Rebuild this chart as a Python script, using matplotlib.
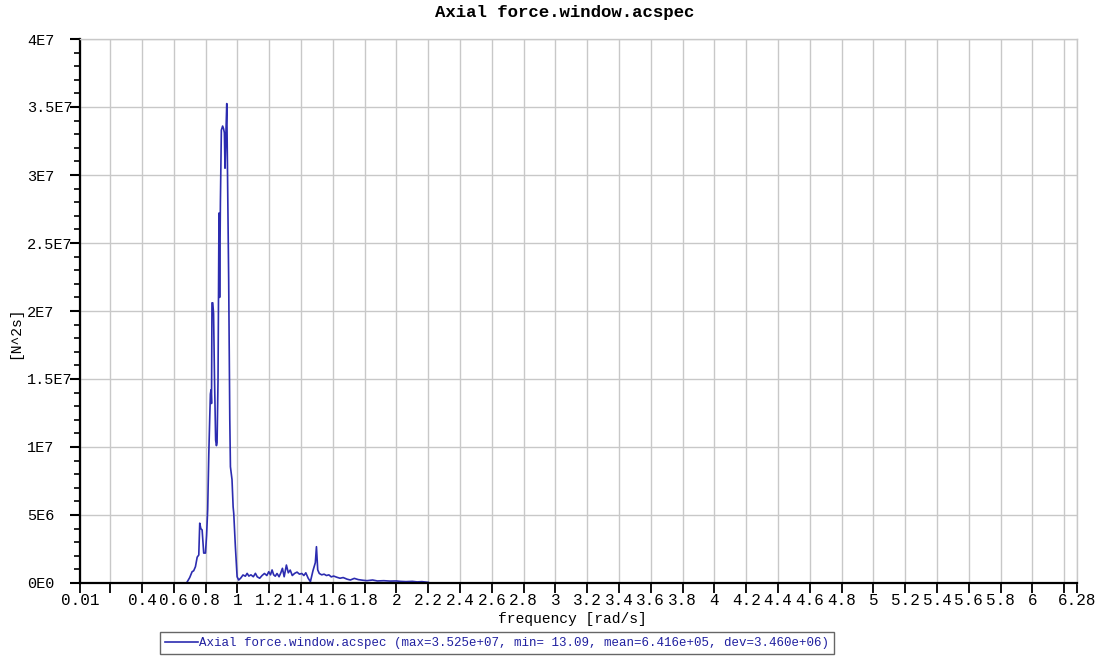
import numpy as np
import matplotlib
matplotlib.use("Agg")
from matplotlib import pyplot as plt
from matplotlib.ticker import MultipleLocator

# Spectrum data (frequency in rad/s, PSD in N^2 s)
freq = [0.680, 0.700, 0.715, 0.725, 0.736, 0.747, 0.757, 0.763, 0.770, 0.778,
        0.788, 0.799, 0.806, 0.813, 0.820, 0.826, 0.830, 0.834, 0.837, 0.840,
        0.845, 0.850, 0.856, 0.863, 0.868, 0.872, 0.878, 0.881, 0.884, 0.888,
        0.893, 0.899, 0.907, 0.913, 0.918, 0.922, 0.927, 0.933, 0.937, 0.945,
        0.952, 0.956, 0.966, 0.973, 0.977, 0.987, 0.998, 1.008, 1.020, 1.035,
        1.050, 1.061, 1.072, 1.085, 1.100, 1.113, 1.125, 1.140, 1.155, 1.170,
        1.185, 1.197, 1.208, 1.218, 1.228, 1.238, 1.249, 1.262, 1.273, 1.283,
        1.294, 1.308, 1.320, 1.332, 1.345, 1.360, 1.375, 1.390, 1.405, 1.418,
        1.430, 1.445, 1.459, 1.475, 1.490, 1.497, 1.505, 1.515, 1.530, 1.545,
        1.560, 1.575, 1.590, 1.605, 1.626, 1.645, 1.665, 1.690, 1.710, 1.735,
        1.760, 1.790, 1.815, 1.850, 1.880, 1.920, 1.960, 2.000, 2.024, 2.060,
        2.100, 2.130, 2.160, 2.200]
psd = [0.0, 0.40, 0.83, 0.90, 1.20, 1.90, 2.06, 4.40, 4.00, 3.90,
       2.20, 2.20, 3.50, 5.40, 9.50, 12.2, 13.9, 14.2, 13.2, 20.6,
       20.6, 19.8, 15.0, 10.5, 10.1, 10.3, 14.9, 21.0, 27.2, 21.0,
       28.0, 33.3, 33.6, 33.4, 33.1, 30.5, 32.8, 35.25, 30.9, 22.3,
       12.0, 8.55, 7.60, 5.60, 5.10, 2.70, 0.46, 0.22, 0.35, 0.59,
       0.50, 0.71, 0.51, 0.60, 0.46, 0.71, 0.45, 0.35, 0.55, 0.70,
       0.55, 0.83, 0.60, 0.96, 0.60, 0.50, 0.70, 0.46, 0.75, 1.08,
       0.46, 1.32, 0.75, 0.95, 0.55, 0.71, 0.80, 0.65, 0.70, 0.55,
       0.75, 0.35, 0.10, 0.90, 1.50, 2.67, 0.96, 0.70, 0.60, 0.65,
       0.55, 0.60, 0.45, 0.51, 0.42, 0.35, 0.40, 0.28, 0.22, 0.34,
       0.25, 0.20, 0.17, 0.22, 0.15, 0.17, 0.14, 0.15, 0.12, 0.10,
       0.12, 0.08, 0.10, 0.05]
psd = np.array(psd) * 1e6

xticks = [0.01] + [round(0.2 * i, 1) for i in range(1, 32)] + [6.28]
xticklabels = []
for t in xticks:
    if t in (0.2, 6.2):
        xticklabels.append("")
    else:
        xticklabels.append("{0:g}".format(t))
yticks = [0, 5e6, 1e7, 1.5e7, 2e7, 2.5e7, 3e7, 3.5e7, 4e7]
yticklabels = ["0E0", "5E6", "1E7", "1.5E7", "2E7", "2.5E7", "3E7", "3.5E7", "4E7"]

series_name = "Axial force.window.acspec"
stats = "(max=3.525e+07, min= 13.09, mean=6.416e+05, dev=3.460e+06)"

plt.rcParams["font.family"] = "Liberation Mono"

fig = plt.figure(figsize=(11.01, 6.66), dpi=100)
ax = fig.add_axes([80 / 1101, 1 - 583 / 666, 997 / 1101, 544 / 666])

line, = ax.plot(freq, psd, color="#2c2cb0", lw=1.2)

ax.set_xlim(0.01, 6.28)
ax.set_ylim(0, 4e7)
ax.set_xticks(xticks)
ax.set_xticklabels(xticklabels, fontsize=11.5)
ax.set_yticks(yticks)
ax.set_yticklabels(yticklabels, fontsize=11)
ax.yaxis.set_minor_locator(MultipleLocator(1e6))
for lab in ax.get_yticklabels():
    lab.set_ha("left")

ax.tick_params(axis="y", which="major", direction="out", length=7, width=1.5,
               pad=31)
ax.tick_params(axis="y", which="minor", direction="out", length=4, width=1.2)
ax.tick_params(axis="x", which="major", direction="out", length=7, width=1.3,
               pad=0.5)

ax.grid(True, color="#c8c8c8", lw=1.0)
ax.set_axisbelow(True)
for side in ("top", "right"):
    ax.spines[side].set_color("#c8c8c8")
    ax.spines[side].set_linewidth(1.0)
for side in ("left", "bottom"):
    ax.spines[side].set_color("black")
    ax.spines[side].set_linewidth(1.6)

ax.set_xlabel("frequency [rad/s]", fontsize=10.5)
ax.xaxis.set_label_coords(572 / 1101, 1 - 619 / 666, transform=fig.transFigure)
ax.xaxis.label.set_va("center")
ax.set_ylabel("[N^2s]", fontsize=10.5)
ax.yaxis.set_label_coords(15 / 1101, 0.5, transform=fig.transFigure)
ax.yaxis.label.set_va("center")

fig.text(565 / 1101, 1 - 13 / 666, series_name, ha="center", va="center",
         fontsize=12.5, fontweight="bold")

leg = fig.legend([line], [series_name + " " + stats], loc="center",
                 bbox_to_anchor=(497 / 1101, 1 - 643 / 666), fontsize=9,
                 frameon=True, fancybox=False, handlelength=2.6,
                 handletextpad=0.1, borderpad=0.4, borderaxespad=0)
leg.get_frame().set_edgecolor("#404040")
leg.get_frame().set_linewidth(1.0)
for txt in leg.get_texts():
    txt.set_color("#2020a0")

fig.savefig("out.png", dpi=100)
